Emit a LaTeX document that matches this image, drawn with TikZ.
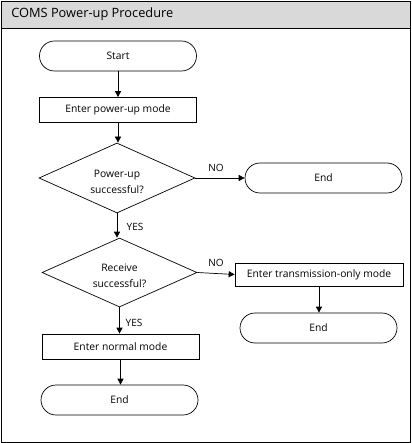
\documentclass[tikz,border=0pt]{standalone}
\usepackage{fontspec}
\setmainfont{Open Sans}
\usetikzlibrary{shapes.geometric,arrows.meta}
\newcommand{\dtext}[2]{\begin{tabular}{@{}c@{}}\rule{0pt}{19pt}#1\\#2\end{tabular}}
\begin{document}
\begin{tikzpicture}[x=1pt,y=-1pt,
  font=\fontsize{10.3}{16}\selectfont,
  line width=0.7pt,
  term/.style={draw, rounded corners=15pt, minimum width=157pt, minimum height=30pt, inner sep=0pt},
  proc/.style={draw, minimum width=157pt, minimum height=25pt, inner sep=0pt},
  dec/.style={draw, diamond, shape aspect=2.2, minimum width=156pt, minimum height=70pt, inner sep=0pt},
  arr/.style={-{Triangle[length=6pt,width=6pt]}},
  lbl/.style={inner sep=0pt, font=\fontsize{10}{12}\selectfont}]
\useasboundingbox (0,0) rectangle (411,443);
\node[draw, fill=gray!30, minimum width=409pt, minimum height=27pt, anchor=north west, inner sep=0pt] (hdr) at (1,1) {};
\node[anchor=west, inner sep=0pt, font=\fontsize{12.8}{14}\selectfont] (title) at (11,14.5) {COMS Power-up Procedure};
\draw (1,28) rectangle (410,442);
\node[term] (start) at (118,56) {Start};
\node[proc] (n1) at (118,110) {Enter power-up mode};
\node[dec] (d1) at (117,178) {\dtext{Power-up}{successful?}};
\node[term] (e1) at (323.5,178) {End};
\node[dec, minimum width=155pt, minimum height=69pt] (d2) at (119.5,272.5) {\dtext{Receive}{successful?}};
\node[proc, minimum width=168pt, minimum height=23pt] (n2) at (319,274.5) {Enter transmission-only mode};
\node[term] (e2) at (318.5,328) {End};
\node[proc] (n3) at (120.5,346.5) {Enter normal mode};
\node[term] (e3) at (119.5,400) {End};
\draw[arr] (start.south) -- (start.south |- n1.north);
\draw[arr] (n1.south) -- (n1.south |- d1.north);
\draw[arr] (d1.east) -- (e1.west);
\draw[arr] (d1.south) -- (d1.south |- d2.north);
\draw[arr] (d2.east) -- (n2.west);
\draw[arr] (n2.south) -- (n2.south |- e2.north);
\draw[arr] (d2.south) -- (d2.south |- n3.north);
\draw[arr] (n3.south) -- (n3.south |- e3.north);
\node[lbl] (no1) at (216,168) {NO};
\node[lbl] (no2) at (216,263) {NO};
\node[lbl] (yes1) at (135,227) {YES};
\node[lbl] (yes2) at (134,323) {YES};
\end{tikzpicture}
\end{document}
